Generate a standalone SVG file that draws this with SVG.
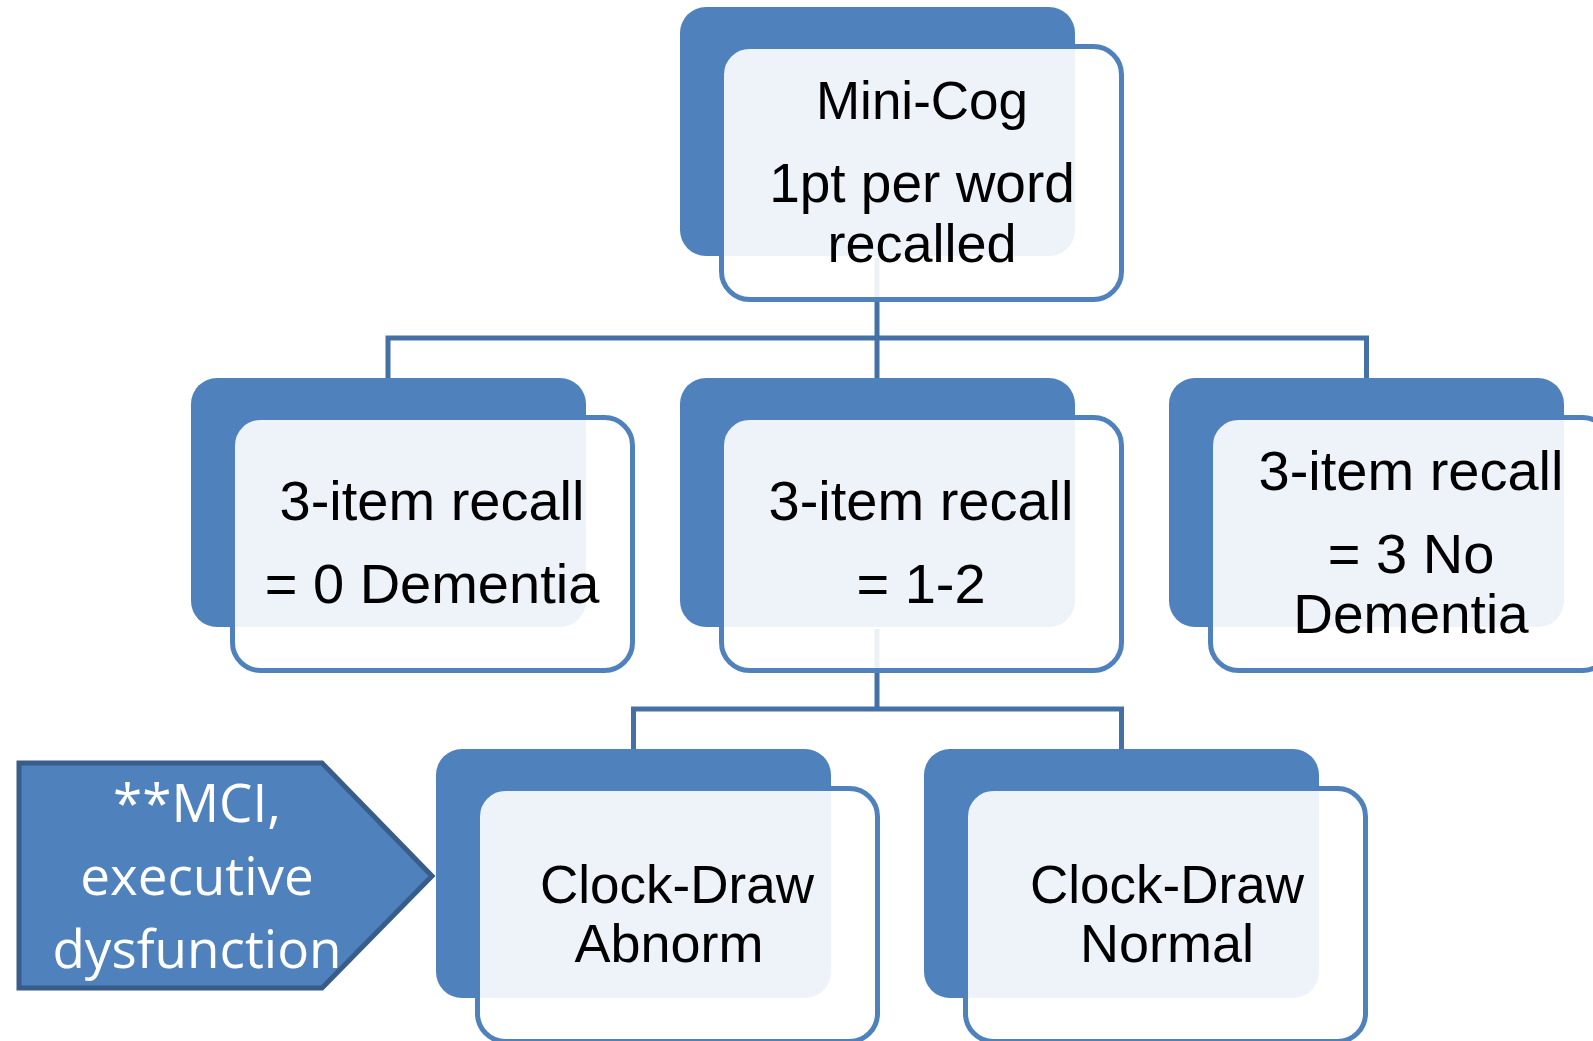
<svg xmlns="http://www.w3.org/2000/svg" width="1593" height="1041" viewBox="0 0 1593 1041">
  <style>
    .back { fill: #4F81BD; }
    .front { fill: #FFFFFF; fill-opacity: 0.9; stroke: #4F81BD; stroke-width: 5; }
    .link { fill: none; stroke: #4471A5; stroke-width: 5; stroke-linejoin: miter; }
    .t { font-family: "Liberation Sans", Arial, sans-serif; font-size: 55px; fill: #000000; text-anchor: middle; }
    .t56 { font-size: 56px; }
    .callout { fill: #4F81BD; stroke: #385D8A; stroke-width: 5; stroke-linejoin: miter; }
    .ct { font-family: "Open Sans", "Liberation Sans", sans-serif; font-size: 53px; fill: #FFFFFF; text-anchor: middle; }
  </style>

  <rect width="1593" height="1041" fill="#FFFFFF"/>

  <!-- back cards sit underneath the connectors -->
  <g id="back-cards">
    <rect class="back" x="680" y="7" width="395" height="249" rx="26"/>
    <rect class="back" x="191" y="378" width="395" height="249" rx="26"/>
    <rect class="back" x="680" y="378" width="395" height="249" rx="26"/>
    <rect class="back" x="1169" y="378" width="395" height="249" rx="26"/>
    <rect class="back" x="436" y="749" width="395" height="249" rx="26"/>
    <rect class="back" x="924" y="749" width="395" height="249" rx="26"/>
  </g>

  <!-- tree connectors -->
  <g id="connectors">
    <path class="link" d="M877 258 V338"/>
    <path class="link" d="M388 378 V338 H1366.5 V378"/>
    <path class="link" d="M877 338 V378"/>
    <path class="link" d="M877 629 V709"/>
    <path class="link" d="M633.5 749 V709 H1121.5 V749"/>
  </g>

  <g id="node-minicog">
    <rect class="front" x="721.5" y="46.5" width="400" height="253" rx="28"/>
    <text class="t" x="922" y="119" style="font-size:53px">Mini-Cog</text>
    <text class="t" x="922" y="202">1pt per word</text>
    <text class="t" x="922" y="262" style="font-size:54px">recalled</text>
  </g>

  <g id="node-recall-0">
    <rect class="front" x="232.5" y="417.5" width="400" height="253" rx="28"/>
    <text class="t t56" x="432" y="520">3-item recall</text>
    <text class="t t56" x="432" y="603">= 0 Dementia</text>
  </g>

  <g id="node-recall-1-2">
    <rect class="front" x="721.5" y="417.5" width="400" height="253" rx="28"/>
    <text class="t t56" x="921" y="520">3-item recall</text>
    <text class="t t56" x="921" y="603">= 1-2</text>
  </g>

  <g id="node-recall-3">
    <rect class="front" x="1210.5" y="417.5" width="400" height="253" rx="28"/>
    <text class="t t56" x="1411" y="490">3-item recall</text>
    <text class="t t56" x="1411" y="573">= 3 No</text>
    <text class="t" x="1411" y="633">Dementia</text>
  </g>

  <g id="node-clock-abnormal">
    <rect class="front" x="477.5" y="788.5" width="400" height="253" rx="28"/>
    <text class="t" x="677" y="903" style="font-size:53px">Clock-Draw</text>
    <text class="t" x="669" y="962" style="font-size:54px">Abnorm</text>
  </g>

  <g id="node-clock-normal">
    <rect class="front" x="965.5" y="788.5" width="400" height="253" rx="28"/>
    <text class="t" x="1167" y="903" style="font-size:53px">Clock-Draw</text>
    <text class="t" x="1167" y="962" style="font-size:54px">Normal</text>
  </g>

  <!-- pentagon callout pointing at the abnormal clock-draw card -->
  <g id="note-mci">
    <polygon class="callout" points="19,763 322,763 432,876 322,988 19,988"/>
    <text class="ct" x="197" y="822">**MCI,</text>
    <text class="ct" x="197" y="895">executive</text>
    <text class="ct" x="197" y="968">dysfunction</text>
  </g>
</svg>
